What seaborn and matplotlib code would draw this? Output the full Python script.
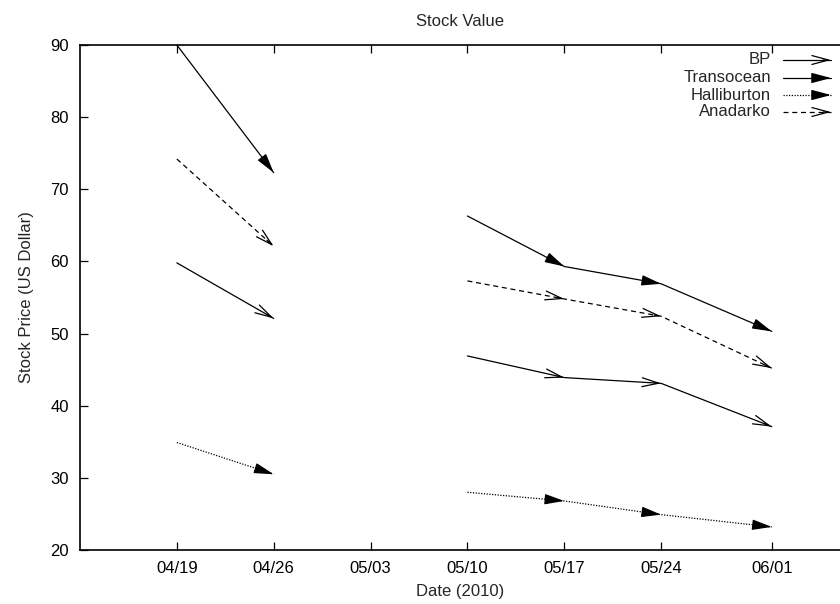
import matplotlib
matplotlib.use("Agg")
import matplotlib.pyplot as plt
import matplotlib.dates as mdates
import seaborn as sns
import pandas as pd

dates = ["2010-04-19", "2010-04-26", "2010-05-10", "2010-05-17", "2010-05-24", "2010-06-01"]
bp = [59.8, 52.1, 46.9, 43.9, 43.1, 37.1]
transocean = [90.0, 72.3, 66.3, 59.3, 56.9, 50.3]
halliburton = [34.9, 30.5, 28.0, 26.8, 24.9, 23.2]
anadarko = [74.2, 62.1, 57.3, 54.8, 52.4, 45.2]
series_names = ["BP", "Transocean", "Halliburton", "Anadarko"]
tick_dates = ["2010-04-19", "2010-04-26", "2010-05-03", "2010-05-10", "2010-05-17", "2010-05-24", "2010-06-01"]
tick_labels = ["04/19", "04/26", "05/03", "05/10", "05/17", "05/24", "06/01"]
y_ticks = [20, 30, 40, 50, 60, 70, 80, 90]

sns.set_style("ticks")
plt.rcParams["font.family"] = ["Liberation Sans", "DejaVu Sans"]

fig = plt.figure(figsize=(8.4, 6.04), dpi=100)
ax = fig.add_axes([80 / 840, 1 - 550 / 604, 761 / 840, 505 / 604])

dt = pd.to_datetime(dates)
# consecutive runs (gap > 8 days breaks the run)
run_ids = []
rid = 0
for i in range(len(dt)):
    if i > 0 and (dt[i] - dt[i - 1]).days > 8:
        rid += 1
    run_ids.append(rid)

styles = {
    "BP": dict(ls="-", head="->"),
    "Transocean": dict(ls="-", head="-|>"),
    "Halliburton": dict(ls=(0, (1, 1.2)), head="-|>"),
    "Anadarko": dict(ls=(0, (4, 3)), head="->"),
}
values = {"BP": bp, "Transocean": transocean, "Halliburton": halliburton, "Anadarko": anadarko}
LW = 0.9

def head_props(name):
    st = styles[name]
    style = st["head"] + ",head_length=1.2,head_width=0.32"
    return dict(arrowstyle=style, color="black", lw=LW, linestyle="-",
                shrinkA=0, shrinkB=0, mutation_scale=10, fc="black")

for name in series_names:
    v = values[name]
    df = pd.DataFrame({"date": dt, "price": v, "run": run_ids})
    sns.lineplot(data=df, x="date", y="price", units="run", estimator=None,
                 color="black", lw=LW, linestyle=styles[name]["ls"], ax=ax,
                 sort=False)
    xs = mdates.date2num(dt)
    for i in range(len(dt) - 1):
        if run_ids[i] != run_ids[i + 1]:
            continue
        fx = xs[i] + 0.93 * (xs[i + 1] - xs[i])
        fy = v[i] + 0.93 * (v[i + 1] - v[i])
        ax.annotate("", xy=(xs[i + 1], v[i + 1]), xytext=(fx, fy),
                    xycoords="data", textcoords="data",
                    arrowprops=head_props(name))

ax.set_xlim(mdates.date2num(pd.Timestamp("2010-04-12")), mdates.date2num(pd.Timestamp("2010-06-06")))
ax.set_ylim(20, 90)
ax.set_xticks([mdates.date2num(pd.Timestamp(d)) for d in tick_dates])
ax.set_xticklabels(tick_labels)
ax.set_yticks(y_ticks)
ax.tick_params(direction="in", length=6, width=0.9, top=True, right=False,
               labelsize=12, pad=8, colors="black")
for s in ax.spines.values():
    s.set_linewidth(1.2)
    s.set_color("black")
ax.spines["right"].set_visible(False)

ax.set_title("Stock Value", fontsize=12, pad=14)
ax.set_xlabel("Date (2010)", fontsize=12, labelpad=6)
ax.set_ylabel("Stock Price (US Dollar)", fontsize=12, labelpad=12)

# gnuplot-style legend
leg_rows = [60, 78, 95, 112]
x0 = (782 - 80) / 760
x1 = (830 - 80) / 760
for name, py in zip(series_names, leg_rows):
    yf = (550 - py) / 505
    ax.text((770 - 80) / 760, yf, name, transform=ax.transAxes, ha="right",
            va="center", fontsize=12)
    ax.plot([x0, x1], [yf, yf], transform=ax.transAxes, color="black", lw=LW,
            linestyle=styles[name]["ls"], clip_on=False)
    ax.annotate("", xy=(x1, yf), xytext=(x1 - 0.01, yf),
                xycoords="axes fraction", textcoords="axes fraction",
                arrowprops=head_props(name))

fig.savefig("out.png", dpi=100)
